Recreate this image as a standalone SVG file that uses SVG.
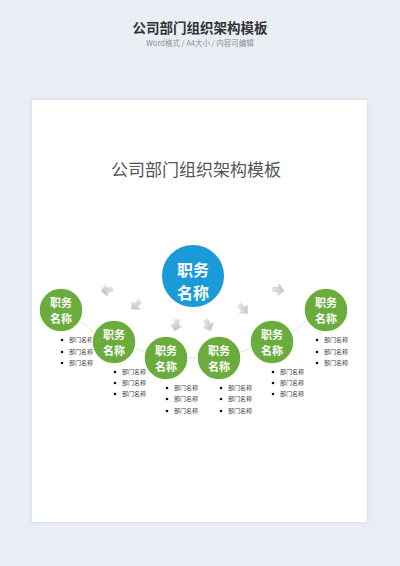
<svg xmlns="http://www.w3.org/2000/svg" width="400" height="566" viewBox="0 0 400 566">
<defs>
<linearGradient id="ag" x1="0" y1="0" x2="1" y2="1">
<stop offset="0" stop-color="#f4f4f4"/>
<stop offset="1" stop-color="#b4b4b4"/>
</linearGradient>
<path id="arr" d="M-2.8,-6 L2.8,-6 L2.8,0 L6.5,0 L0,6.5 L-6.5,0 L-2.8,0 Z"/>
<filter id="sh" x="-20%" y="-20%" width="140%" height="140%">
<feDropShadow dx="0" dy="0" stdDeviation="1.5" flood-color="#8a9bb0" flood-opacity="0.35"/>
</filter>
</defs>
<style>
.h{font-family:"Noto Sans CJK SC","Noto Sans",sans-serif;}
.g{fill:#6aad3d;stroke:#ffffff;stroke-width:1.5;}
.b{fill:#1a9ad7;stroke:#ffffff;stroke-width:2;}
.gt{font-family:"Noto Sans CJK SC",sans-serif;font-size:11px;fill:#ffffff;text-anchor:middle;font-weight:bold;}
.bt{font-family:"Noto Sans CJK SC",sans-serif;font-size:16px;fill:#ffffff;text-anchor:middle;font-weight:bold;}
.li{font-family:"Noto Sans CJK SC",sans-serif;font-size:6px;fill:#444444;}
.dot{fill:#111111;}
.ln{stroke:#cccccc;stroke-width:0.6;fill:none;}
.ar{fill:url(#ag);}
</style>
<rect x="0" y="0" width="400" height="566" fill="#e9edf4"/>
<text class="h" x="200" y="33" font-size="13.5" font-weight="bold" fill="#333333" text-anchor="middle">公司部门组织架构模板</text>
<text class="h" x="200" y="46" font-size="7.5" fill="#8a8f99" text-anchor="middle">Word格式 / A4大小 / 内容可编辑</text>
<rect x="32" y="100" width="335" height="422" fill="#ffffff" filter="url(#sh)"/>
<text class="h" x="196" y="176" font-size="17" fill="#555555" text-anchor="middle">公司部门组织架构模板</text>

<g id="connectors">
<line class="ln" x1="80" y1="321" x2="95" y2="333"/>
<line class="ln" x1="135" y1="348" x2="145" y2="352"/>
<line class="ln" x1="188" y1="358" x2="197" y2="358"/>
<line class="ln" x1="241" y1="352" x2="251" y2="348"/>
<line class="ln" x1="292" y1="333" x2="306" y2="321"/>
<use href="#arr" class="ar" transform="translate(107,290) rotate(80)"/>
<use href="#arr" class="ar" transform="translate(136,305) rotate(45)"/>
<use href="#arr" class="ar" transform="translate(176,325) rotate(12)"/>
<use href="#arr" class="ar" transform="translate(208,325) rotate(-25)"/>
<use href="#arr" class="ar" transform="translate(243,309) rotate(-45)"/>
<use href="#arr" class="ar" transform="translate(278,290) rotate(-80)"/>
</g>

<g id="top">
<circle class="b" cx="193" cy="276" r="32"/>
<text class="bt" x="193" y="276">职务</text>
<text class="bt" x="193" y="299">名称</text>
</g>

<g id="n1">
<circle class="g" cx="61" cy="310" r="22"/>
<text class="gt" x="61" y="307">职务</text>
<text class="gt" x="61" y="323">名称</text>
<circle class="dot" cx="62" cy="340" r="1.3"/><text class="li" x="69" y="342">部门名称</text>
<circle class="dot" cx="62" cy="352" r="1.3"/><text class="li" x="69" y="354">部门名称</text>
<circle class="dot" cx="62" cy="363" r="1.3"/><text class="li" x="69" y="365">部门名称</text>
</g>
<g id="n2">
<circle class="g" cx="114" cy="342" r="22"/>
<text class="gt" x="114" y="339">职务</text>
<text class="gt" x="114" y="355">名称</text>
<circle class="dot" cx="115" cy="372" r="1.3"/><text class="li" x="122" y="374">部门名称</text>
<circle class="dot" cx="115" cy="383" r="1.3"/><text class="li" x="122" y="385">部门名称</text>
<circle class="dot" cx="115" cy="394" r="1.3"/><text class="li" x="122" y="396">部门名称</text>
</g>
<g id="n3">
<circle class="g" cx="166" cy="358" r="22"/>
<text class="gt" x="166" y="355">职务</text>
<text class="gt" x="166" y="371">名称</text>
<circle class="dot" cx="167" cy="388" r="1.3"/><text class="li" x="174" y="390">部门名称</text>
<circle class="dot" cx="167" cy="399" r="1.3"/><text class="li" x="174" y="401">部门名称</text>
<circle class="dot" cx="167" cy="411" r="1.3"/><text class="li" x="174" y="413">部门名称</text>
</g>
<g id="n4">
<circle class="g" cx="219" cy="358" r="22"/>
<text class="gt" x="219" y="355">职务</text>
<text class="gt" x="219" y="371">名称</text>
<circle class="dot" cx="221" cy="388" r="1.3"/><text class="li" x="228" y="390">部门名称</text>
<circle class="dot" cx="221" cy="399" r="1.3"/><text class="li" x="228" y="401">部门名称</text>
<circle class="dot" cx="221" cy="411" r="1.3"/><text class="li" x="228" y="413">部门名称</text>
</g>
<g id="n5">
<circle class="g" cx="272" cy="342" r="22"/>
<text class="gt" x="272" y="339">职务</text>
<text class="gt" x="272" y="355">名称</text>
<circle class="dot" cx="273" cy="372" r="1.3"/><text class="li" x="280" y="374">部门名称</text>
<circle class="dot" cx="273" cy="383" r="1.3"/><text class="li" x="280" y="385">部门名称</text>
<circle class="dot" cx="273" cy="394" r="1.3"/><text class="li" x="280" y="396">部门名称</text>
</g>
<g id="n6">
<circle class="g" cx="326" cy="310" r="22"/>
<text class="gt" x="326" y="307">职务</text>
<text class="gt" x="326" y="323">名称</text>
<circle class="dot" cx="317" cy="340" r="1.3"/><text class="li" x="324" y="342">部门名称</text>
<circle class="dot" cx="317" cy="352" r="1.3"/><text class="li" x="324" y="354">部门名称</text>
<circle class="dot" cx="317" cy="363" r="1.3"/><text class="li" x="324" y="365">部门名称</text>
</g>
</svg>
